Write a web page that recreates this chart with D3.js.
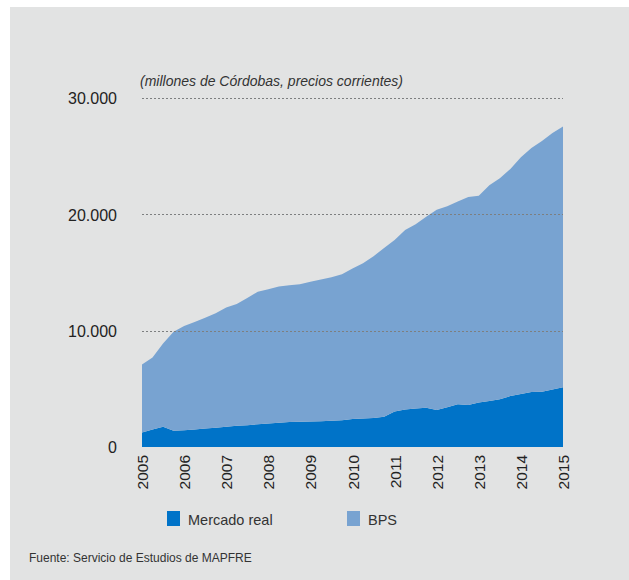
<!DOCTYPE html>
<html>
<head>
<meta charset="utf-8">
<script src="https://cdn.jsdelivr.net/npm/d3@7"></script>
<style>
  html, body { margin: 0; padding: 0; background: #ffffff; }
  svg { display: block; }
  text { font-family: "Liberation Sans", Arial, sans-serif; }
</style>
</head>
<body>
<svg id="chart" width="629" height="580"></svg>
<script>
// Quarterly observations, 2005 Q1 .. 2015 Q1 (millones de Córdobas)
const years = [2005, 2006, 2007, 2008, 2009, 2010, 2011, 2012, 2013, 2014, 2015];
const quarters = [
  "2005T1","2005T2","2005T3","2005T4",
  "2006T1","2006T2","2006T3","2006T4",
  "2007T1","2007T2","2007T3","2007T4",
  "2008T1","2008T2","2008T3","2008T4",
  "2009T1","2009T2","2009T3","2009T4",
  "2010T1","2010T2","2010T3","2010T4",
  "2011T1","2011T2","2011T3","2011T4",
  "2012T1","2012T2","2012T3","2012T4",
  "2013T1","2013T2","2013T3","2013T4",
  "2014T1","2014T2","2014T3","2014T4",
  "2015T1"
];
const mercadoReal = [
  1250, 1500, 1750, 1400,
  1450, 1500, 1580, 1650,
  1750, 1820, 1880, 1950,
  2020, 2080, 2140, 2180,
  2200, 2220, 2250, 2300,
  2400, 2450, 2500, 2600,
  3050, 3220, 3300, 3380,
  3180, 3420, 3670, 3620,
  3820, 3950, 4100, 4380,
  4560, 4720, 4760, 4950,
  5130
];
const bps = [
  5850, 6200, 7150, 8500,
  8950, 9250, 9520, 9850,
  10250, 10480, 10920, 11400,
  11530, 11720, 11760, 11820,
  12000, 12180, 12350, 12550,
  12950, 13350, 13900, 14500,
  14750, 15430, 15850, 16420,
  17220, 17280, 17430, 17880,
  17780, 18550, 19000, 19520,
  20340, 20980, 21540, 22050,
  22420
];
const yTicks = [0, 10000, 20000, 30000];
const seriesNames = ["Mercado real", "BPS"];
const seriesColors = ["#0073c8", "#78a3d1"];
const titleText = "(millones de Córdobas, precios corrientes)";
const sourceText = "Fuente: Servicio de Estudios de MAPFRE";

const svg = d3.select("#chart");

// background panel
svg.append("rect").attr("x", 10).attr("y", 7).attr("width", 619).attr("height", 573)
  .attr("fill", "#e2e3e3");

const x = d3.scaleLinear().domain([2005, 2015]).range([142, 563]);
const y = d3.scaleLinear().domain([0, 30000]).range([447, 98]);

const rows = quarters.map((q, i) => ({
  t: 2005 + i / 4,
  "Mercado real": mercadoReal[i],
  "BPS": bps[i]
}));

const stack = d3.stack().keys(seriesNames);
const stacked = stack(rows);

const area = d3.area()
  .x(d => x(d.data.t))
  .y0(d => y(d[0]))
  .y1(d => y(d[1]));

svg.append("g").selectAll("path")
  .data(stacked)
  .join("path")
  .attr("d", area)
  .attr("fill", (d, i) => seriesColors[i]);

// dotted gridlines (drawn on top)
svg.append("g").selectAll("line")
  .data(yTicks.filter(v => v > 0))
  .join("line")
  .attr("x1", x(2005)).attr("x2", x(2015))
  .attr("y1", d => Math.round(y(d)) + 0.5).attr("y2", d => Math.round(y(d)) + 0.5)
  .attr("stroke", "#7d7f80")
  .attr("stroke-width", 1)
  .attr("stroke-dasharray", "2,2");

// y axis labels
const loc = d3.formatLocale({ decimal: ",", thousands: ".", grouping: [3], currency: ["", ""] });
const fmt = loc.format(",d");
const yAxis = d3.axisLeft(y).tickValues(yTicks).tickFormat(fmt).tickSize(0).tickPadding(0);
const gy = svg.append("g").attr("transform", "translate(117,0)").call(yAxis);
gy.select(".domain").remove();
gy.selectAll("text")
  .attr("fill", "#222")
  .style("font-size", "16px")
  .attr("dy", "0.36em");

// x axis labels (rotated)
const xAxis = d3.axisBottom(x).tickValues(years).tickFormat(d3.format("d")).tickSize(0).tickPadding(0);
const gx = svg.append("g").attr("transform", "translate(0,455)").call(xAxis);
gx.select(".domain").remove();
gx.selectAll("text")
  .attr("fill", "#222")
  .style("font-size", "15.5px")
  .attr("text-anchor", "end")
  .attr("transform", "rotate(-90)")
  .attr("x", 0)
  .attr("y", 0)
  .attr("dx", 0)
  .attr("dy", "0.36em");

// title / unit
svg.append("text")
  .attr("x", 140).attr("y", 86)
  .attr("fill", "#333")
  .style("font-size", "14px")
  .style("font-style", "italic")
  .text(titleText);

// legend
const legendX = [167, 347];
const lg = svg.append("g").selectAll("g")
  .data(seriesNames)
  .join("g")
  .attr("transform", (d, i) => `translate(${legendX[i]},511)`);
lg.append("rect").attr("width", 13).attr("height", 15)
  .attr("fill", (d, i) => seriesColors[i]);
lg.append("text").attr("x", 21).attr("y", 14)
  .attr("fill", "#333")
  .style("font-size", "14.5px")
  .text(d => d);

// source
svg.append("text")
  .attr("x", 29).attr("y", 562)
  .attr("fill", "#333")
  .style("font-size", "12px")
  .text(sourceText);
</script>
</body>
</html>
